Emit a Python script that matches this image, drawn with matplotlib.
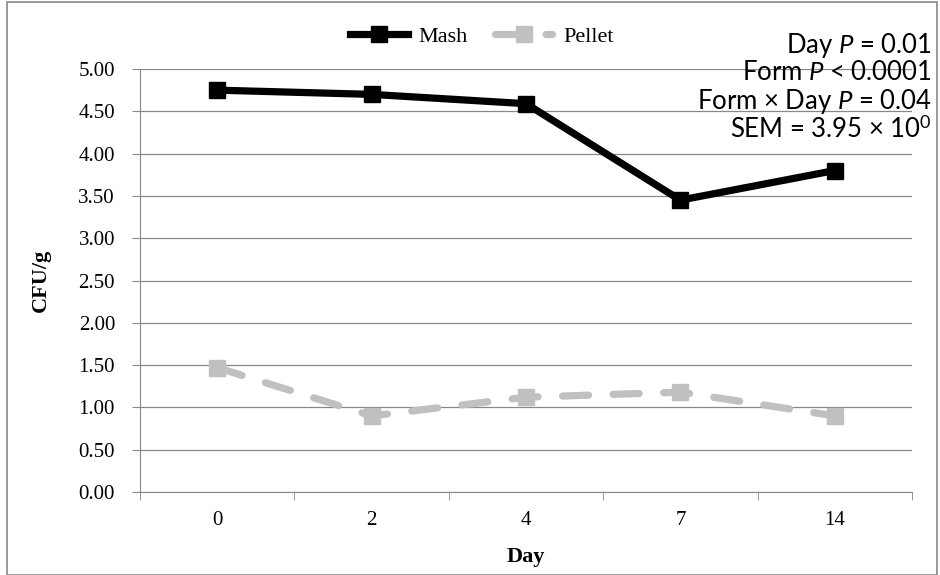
import matplotlib
matplotlib.use("Agg")
import matplotlib.pyplot as plt
from matplotlib.patches import Rectangle

days = ["0", "2", "4", "7", "14"]
mash = [4.75, 4.70, 4.59, 3.45, 3.80]
pellet = [1.47, 0.90, 1.12, 1.18, 0.90]
stats = ["Day $\\mathit{P}$ = 0.01",
         "Form $\\mathit{P}$ < 0.0001",
         "Form \u00d7 Day $\\mathit{P}$ = 0.04",
         "SEM = 3.95 \u00d7 10$^{0}$"]

plt.rcParams["mathtext.fontset"] = "custom"
plt.rcParams["mathtext.it"] = "Lato:italic"
plt.rcParams["mathtext.rm"] = "Lato"

fig = plt.figure(figsize=(9.4, 5.75), dpi=100)
ax = fig.add_axes([140 / 940, 1 - 492 / 575, 772 / 940, 423 / 575])

x = list(range(len(days)))
ax.plot(x, mash, color="black", lw=5.2, marker="s", ms=12, label="Mash")
ax.plot(x, pellet, color="#c0c0c0", lw=5.2, ls=(0, (3.6, 3.4)), marker="s", ms=12,
        dash_capstyle="round", label="Pellet")

ax.set_xlim(-0.5, len(days) - 0.5)
ax.set_ylim(0, 5)
ax.set_yticks([i * 0.5 for i in range(11)])
ax.set_yticklabels([f"{i * 0.5:.2f}" for i in range(11)], fontfamily="Liberation Serif", fontsize=15)
ax.set_xticks(x)
ax.set_xticklabels(days, fontfamily="Liberation Serif", fontsize=15)
ax.set_xticks([i - 0.5 for i in range(len(days) + 1)], minor=True)
ax.tick_params(axis="x", which="major", length=0, pad=14)
ax.tick_params(axis="x", which="minor", length=6, color="#888888")
ax.tick_params(axis="y", length=6, color="#888888", pad=12)
ax.grid(axis="y", color="#888888", lw=0.9)
ax.set_axisbelow(True)
for s in ["top", "right"]:
    ax.spines[s].set_visible(False)
for s in ["left", "bottom"]:
    ax.spines[s].set_color("#888888")

ax.set_xlabel("Day", fontfamily="Liberation Serif", fontsize=16, fontweight="bold", labelpad=12)
ax.set_ylabel("CFU/g", fontfamily="Liberation Serif", fontsize=16, fontweight="bold", labelpad=20)

leg = fig.legend(loc="center", bbox_to_anchor=(482 / 940, 1 - 37 / 575), ncol=2, frameon=False,
                 prop={"family": "Liberation Serif", "size": 16}, handlelength=2.6,
                 columnspacing=1.2, handletextpad=0.5)

for i, s in enumerate(stats):
    fig.text(932 / 940, 1 - (45 + 28 * i) / 575, s, ha="right", va="center",
             fontfamily="Lato", fontsize=18.5)

fig.patches.append(Rectangle((7 / 940, 0), 930 / 940, 573 / 575, transform=fig.transFigure,
                             fill=False, edgecolor="#888888", lw=1.2))

fig.savefig("out.png", dpi=100)
